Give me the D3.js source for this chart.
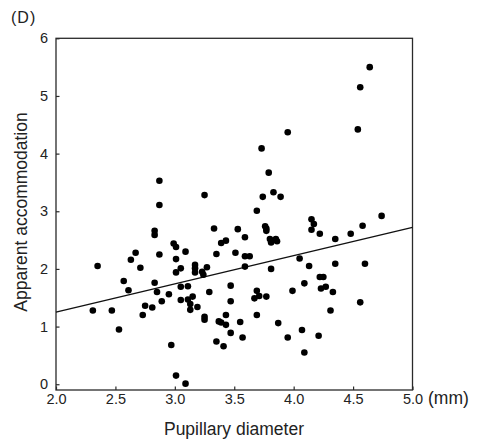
<!DOCTYPE html>
<html>
<head>
<meta charset="utf-8">
<script src="https://cdn.jsdelivr.net/npm/d3@7"></script>
<style>
  html, body { margin: 0; padding: 0; background: #fff; }
  svg { display: block; font-family: "Liberation Sans", Arial, Helvetica, sans-serif; }
</style>
</head>
<body>
<svg id="chart" width="478" height="441"></svg>
<script>
// ---- Data ----
const pupilDiameter = [
  2.31, 2.35, 2.47, 2.53, 2.57, 2.61, 2.63, 2.67, 2.71, 2.73,
  2.75, 2.81, 2.83, 2.83, 2.83, 2.85, 2.87, 2.87, 2.87, 2.89,
  2.95, 2.97, 2.99, 3.01, 3.01, 3.01, 3.01, 3.09, 3.05, 3.05,
  3.11, 3.05, 3.11, 3.15, 3.13, 3.13, 3.19, 3.09, 3.17, 3.17,
  3.17, 3.23, 3.24, 3.27, 3.25, 3.25, 3.25, 3.29, 3.33, 3.35,
  3.35, 3.37, 3.39, 3.39, 3.43, 3.41, 3.43, 3.43, 3.47, 3.47,
  3.47, 3.51, 3.53, 3.55, 3.57, 3.59, 3.59, 3.63, 3.59, 3.69,
  3.69, 3.71, 3.67, 3.77, 3.69, 3.73, 3.74, 3.76, 3.77, 3.77,
  3.79, 3.83, 3.89, 3.80, 3.81, 3.85, 3.86, 3.81, 3.87, 3.95,
  3.95, 3.99, 4.05, 4.07, 4.09, 4.09, 4.13, 4.15, 4.17, 4.15,
  4.22, 4.22, 4.25, 4.23, 4.27, 4.21, 4.31, 4.33, 4.35, 4.35,
  4.48, 4.54, 4.56, 4.56, 4.58, 4.60, 4.64, 4.74
];
const apparentAccommodation = [
  1.28, 2.05, 1.28, 0.95, 1.79, 1.63, 2.16, 2.28, 2.02, 1.20,
  1.36, 1.33, 2.66, 2.59, 1.76, 1.60, 3.53, 3.11, 2.25, 1.44,
  1.56, 0.68, 2.44, 2.38, 2.17, 1.94, 0.15, 0.01, 2.01, 1.69,
  1.70, 1.46, 1.47, 1.52, 1.39, 1.29, 1.34, 2.30, 2.07, 2.01,
  1.94, 1.95, 1.90, 2.03, 3.28, 1.17, 1.12, 1.60, 2.70, 2.26,
  0.74, 1.09, 1.07, 2.45, 2.49, 0.66, 1.20, 1.03, 1.71, 1.44,
  0.89, 2.28, 2.69, 1.08, 0.81, 2.55, 2.22, 2.22, 2.04, 3.01,
  1.62, 1.53, 1.49, 1.52, 1.20, 4.09, 3.25, 2.74, 2.70, 2.66,
  3.67, 3.33, 3.25, 2.52, 2.46, 2.52, 2.48, 2.00, 1.06, 4.37,
  0.81, 1.62, 2.18, 0.94, 1.75, 0.55, 2.05, 2.86, 2.78, 2.68,
  2.61, 1.86, 1.86, 1.66, 1.69, 0.84, 1.28, 1.60, 2.52, 2.09,
  2.61, 4.42, 1.42, 5.15, 2.75, 2.09, 5.50, 2.92
];
// Regression line end points
const fitX = [2.0, 5.0];
const fitY = [1.25, 2.72];
// Tick labels
const xTicks = [2.0, 2.5, 3.0, 3.5, 4.0, 4.5, 5.0];
const xTickLabels = ["2.0", "2.5", "3.0", "3.5", "4.0", "4.5", "5.0"];
const yTicks = [0, 1, 2, 3, 4, 5, 6];
const yTickLabels = ["0", "1", "2", "3", "4", "5", "6"];
const panelLabel = "(D)";
const xTitle = "Pupillary diameter";
const xUnit = "(mm)";
const yTitle = "Apparent accommodation";

// ---- Layout ----
const svg = d3.select("#chart");
const mLeft = 56, mRight = 412.5, mTop = 38.3, mBottom = 390;

const x = d3.scaleLinear().domain([2.0, 5.0]).range([mLeft, mRight]);
const y = d3.scaleLinear().domain([-0.1, 6]).range([mBottom, mTop]);

// Frame
svg.append("rect")
  .attr("x", mLeft).attr("y", mTop)
  .attr("width", mRight - mLeft).attr("height", mBottom - mTop)
  .attr("fill", "none").attr("stroke", "#2a2a2a").attr("stroke-width", 1.3);

// X axis
const xAxis = d3.axisBottom(x)
  .tickValues(xTicks)
  .tickFormat((d, i) => xTickLabels[i])
  .tickSize(-3.5)
  .tickPadding(3.5);
const gx = svg.append("g").attr("transform", `translate(0,${mBottom})`).call(xAxis);
gx.select(".domain").remove();
gx.selectAll(".tick line").attr("stroke", "#2a2a2a").attr("stroke-width", 1.2);
gx.selectAll(".tick text").attr("font-size", 14.5).attr("fill", "#222")
  .attr("font-family", "'Liberation Sans', Arial, sans-serif");

// Y axis
const yAxis = d3.axisLeft(y)
  .tickValues(yTicks)
  .tickFormat((d, i) => yTickLabels[i])
  .tickSize(-3.5)
  .tickPadding(8);
const gy = svg.append("g").attr("transform", `translate(${mLeft},0)`).call(yAxis);
gy.select(".domain").remove();
gy.selectAll(".tick line").attr("stroke", "#2a2a2a").attr("stroke-width", 1.2);
gy.selectAll(".tick text").attr("font-size", 14.5).attr("fill", "#222")
  .attr("font-family", "'Liberation Sans', Arial, sans-serif");

// Regression line
const fitPts = fitX.map((d, i) => [d, fitY[i]]);
svg.append("path")
  .datum(fitPts)
  .attr("d", d3.line().x(d => x(d[0])).y(d => y(d[1])))
  .attr("fill", "none").attr("stroke", "#111").attr("stroke-width", 1.4);

// Points
const pts = pupilDiameter.map((d, i) => ({ px: d, py: apparentAccommodation[i] }));
svg.append("g").selectAll("circle")
  .data(pts).join("circle")
  .attr("cx", d => x(d.px))
  .attr("cy", d => y(d.py))
  .attr("r", 3.3)
  .attr("fill", "#000");

// Titles
svg.append("text")
  .attr("x", 234).attr("y", 435)
  .attr("text-anchor", "middle")
  .attr("font-size", 17.5).attr("fill", "#222")
  .text(xTitle);

svg.append("text")
  .attr("x", 428).attr("y", 404)
  .attr("font-size", 17.5).attr("fill", "#222")
  .text(xUnit);

svg.append("text")
  .attr("transform", `translate(27,212) rotate(-90)`)
  .attr("text-anchor", "middle")
  .attr("font-size", 17.5).attr("fill", "#222")
  .text(yTitle);

svg.append("text")
  .attr("x", 11).attr("y", 23)
  .attr("font-size", 16).attr("fill", "#222")
  .attr("letter-spacing", 1)
  .text(panelLabel);
</script>
</body>
</html>
